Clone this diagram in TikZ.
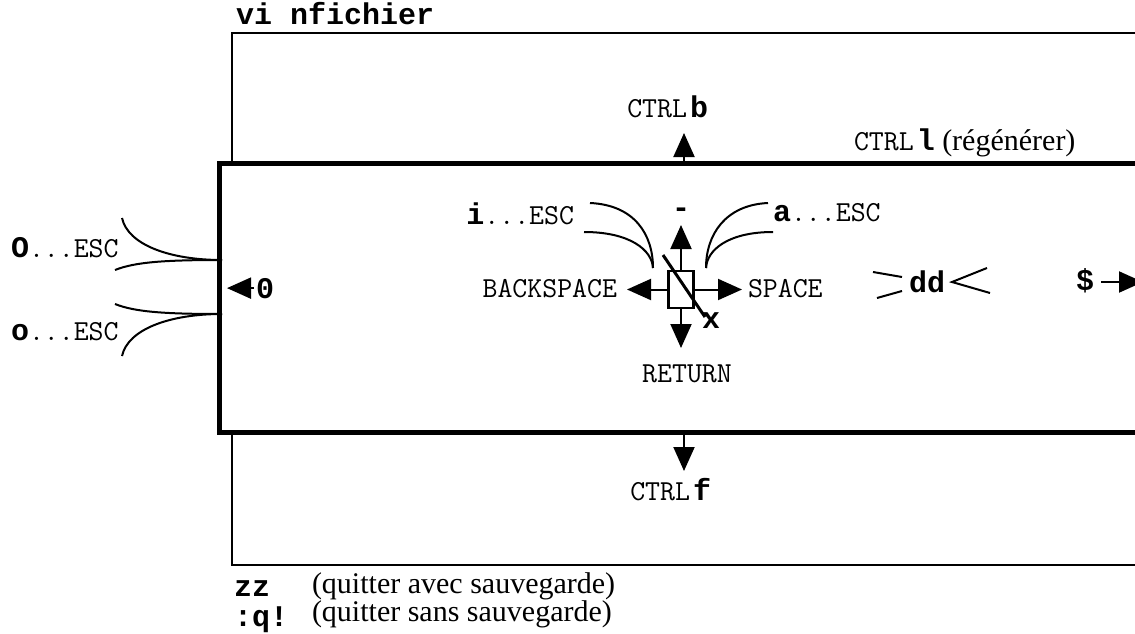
\documentclass[tikz,border=0pt]{standalone}
\usepackage{fontspec}
\setmainfont{Liberation Serif}
\newfontfamily\courb{Liberation Mono}
\usetikzlibrary{arrows.meta}
\newcommand\cmdb[1]{{\fontsize{30}{32}\selectfont\courb\bfseries #1}}
\newcommand\cmdr[1]{{\fontsize{29}{31}\selectfont\ttfamily #1}}
\tikzset{
  lbl/.style={inner sep=0pt, font=\fontsize{30}{32}\selectfont},
  fleche/.style={-{Triangle[length=24pt,width=21pt]}, line width=2pt},
  cadre/.style={line width=5pt, fill=white},
}
\begin{document}
\begin{tikzpicture}[x=1pt,y=-1pt,line width=2pt]
    \useasboundingbox (0,0) rectangle (1135,634);
    \clip (0,0) rectangle (1135,634);
    % --- le fichier entier ---
    \draw (1150,33) -- (232,33) -- (232,565) -- (1150,565);
    \node[lbl,anchor=base west] (titre) at (235,25) {\cmdb{vi nfichier}};
    % --- la fenetre (ecran) ---
    \draw[cadre] (1150,163) -- (219,163) -- (219,432) -- (1150,432);
    \coordinate (hb) at (684,163);
    \coordinate (bb) at (684,432);
    \coordinate (tb) at (684,133);
    \coordinate (tf) at (684,471);
    \node[lbl,anchor=base east] (ctrlb) at (709,117) {\cmdr{CTRL}\hspace{3pt}\cmdb{b}};
    \node[lbl,anchor=base west] (ctrll) at (853,150) {\cmdr{CTRL}\hspace{3pt}\cmdb{l} (régénérer)};
    \node[lbl,anchor=base east] (ctrlf) at (712,500) {\cmdr{CTRL}\hspace{3pt}\cmdb{f}};
    \draw[fleche] (hb) -- (tb);
    \draw[fleche] (bb) -- (tf);
    % --- ouvrir une ligne ---
    \node[lbl,anchor=base west] (Oesc) at (10,257) {\cmdb{O}\cmdr{...ESC}};
    \node[lbl,anchor=base west] (oesc) at (10,340) {\cmdb{o}\cmdr{...ESC}};
    \foreach \y/\s in {260/1, 314/-1}{
      \draw (122,{\y-42*\s}) .. controls (128,{\y-15*\s}) and (170,\y) .. (222,\y);
      \draw (115,{\y+10*\s}) .. controls (135,{\y+2*\s}) and (165,\y) .. (222,\y);
    }
    \node[lbl,anchor=base west] (zero) at (255,298) {\cmdb{0}};
    \draw[fleche, shorten <=1pt] (zero.west) -- (zero.west -| 227,0);
    % --- le curseur ---
    \node[draw,line width=2.5pt,minimum width=25pt,minimum height=37pt,inner sep=0pt] (cur) at (681,289.5) {};
    \coordinate (tn) at (681,225);
    \coordinate (ts) at (681,348);
    \coordinate (tw) at (627,289.5);
    \coordinate (te) at (742,289.5);
    \foreach \a/\t in {north/tn, south/ts, west/tw, east/te}
      {\draw[fleche] (cur.\a) -- (\t);}
    \draw[line width=3pt] (663,255) -- (705,317);
    \node[lbl,anchor=base] (moins) at (681,217) {\cmdb{-}};
    \node[lbl,anchor=base east] (bs) at (618,297) {\cmdr{BACKSPACE}};
    \node[lbl,anchor=base west] (sp) at (747,297) {\cmdr{SPACE}};
    \node[lbl,anchor=base] (ret) at (687,382) {\cmdr{RETURN}};
    \node[lbl,anchor=base] (x) at (711,328) {\cmdb{x}};
    % --- inserer / ajouter ---
    \node[lbl,anchor=base east] (iesc) at (575,224) {\cmdb{i}\cmdr{...ESC}};
    \node[lbl,anchor=base west] (aesc) at (772,221) {\cmdb{a}\cmdr{...ESC}};
    \draw (590,203) .. controls (635,205) and (653,235) .. (653,268);
    \draw (584,232) .. controls (630,232) and (652,250) .. (653,268);
    \draw (768,203) .. controls (725,205) and (706,235) .. (706,268);
    \draw (773,232) .. controls (728,232) and (707,250) .. (706,268);
    % --- supprimer la ligne, fin de ligne ---
    \node[lbl,anchor=base] (dd) at (927,292) {\cmdb{dd}};
    \draw (873,272) -- (902,277) (877,298) -- (902,291);
    \draw (987,268) -- (952,282) -- (990,293);
    \node[lbl,anchor=base] (dollar) at (1085,290) {\cmdb{\$}};
    \coordinate (td) at (1143,282);
    \draw[fleche, shorten <=6pt] (dollar.east |- td) -- (td);
    % --- quitter ---
    \node[lbl,anchor=base west] (zz) at (233,596) {\cmdb{zz}};
    \node[lbl,anchor=base west] (zzt) at (311,593) {(quitter avec sauvegarde)};
    \node[lbl,anchor=base west] (q) at (233,626) {\cmdb{:q!}};
    \node[lbl,anchor=base west] (qt) at (311,621) {(quitter sans sauvegarde)};
\end{tikzpicture}
\end{document}
